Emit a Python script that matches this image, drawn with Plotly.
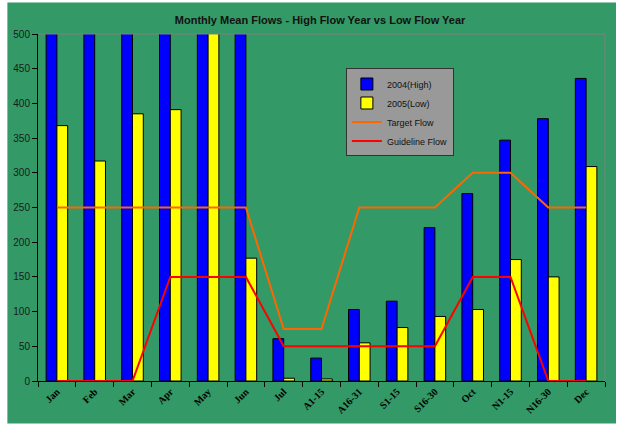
import plotly.graph_objects as go

# Flow periods (months, with Aug/Sep/Nov split into half-months)
periods = ["Jan", "Feb", "Mar", "Apr", "May", "Jun", "Jul", "A1-15", "A16-31",
           "S1-15", "S16-30", "Oct", "N1-15", "N16-30", "Dec"]

# Mean flows for the high flow year and the low flow year
flow_2004 = [642, 583, 712, 1065, 1386, 768, 61, 33, 103, 115, 221, 270, 347, 378, 436]
flow_2005 = [368, 317, 385, 391, 512, 177, 4, 3, 55, 77, 93, 103, 175, 150, 309]

# Reference flow levels
target_flow = [250, 250, 250, 250, 250, 250, 75, 75, 250, 250, 250, 300, 300, 250, 250]
guideline_flow = [0, 0, 0, 150, 150, 150, 50, 50, 50, 50, 50, 150, 150, 0, 0]

y_ticks = list(range(0, 501, 50))

fig = go.Figure()

fig.add_trace(go.Bar(
    x=periods, y=flow_2004, name="2004(High)",
    marker=dict(color="#0000FF", line=dict(color="#000000", width=1)),
))
fig.add_trace(go.Bar(
    x=periods, y=flow_2005, name="2005(Low)",
    marker=dict(color="#FFFF00", line=dict(color="#000000", width=1)),
))
fig.add_trace(go.Scatter(
    x=periods, y=target_flow, name="Target Flow", mode="lines",
    line=dict(color="#FF6600", width=2), cliponaxis=False,
))
fig.add_trace(go.Scatter(
    x=periods, y=guideline_flow, name="Guideline Flow", mode="lines",
    line=dict(color="#FF0000", width=2), cliponaxis=False,
))

# green chart area framed by a thin white border
fig.add_shape(type="rect", xref="paper", yref="paper",
              x0=-0.054, x1=1.0194, y0=-0.1225, y1=1.0908,
              fillcolor="#339966", line=dict(width=0), layer="below")
# grey frame on the top and right edges of the plot area
fig.add_shape(type="line", xref="paper", yref="paper",
              x0=0, x1=1, y0=1, y1=1,
              line=dict(color="#808080", width=1), layer="above")
fig.add_shape(type="line", xref="paper", yref="paper",
              x0=1, x1=1, y0=0, y1=1,
              line=dict(color="#808080", width=1), layer="above")

fig.update_layout(
    width=624, height=425,
    margin=dict(l=38, r=19, t=34, b=44, autoexpand=False),
    paper_bgcolor="#FFFFFF",
    plot_bgcolor="#C0C0C0",
    barmode="group", bargap=0.43, bargroupgap=0,
    title=dict(
        text="<b>Monthly Mean Flows - High Flow Year vs Low Flow Year</b>",
        x=0.513, xanchor="center", y=0.953, yanchor="middle",
        font=dict(family="Liberation Sans, Arial", size=11, color="#111111"),
    ),
    showlegend=True,
    legend=dict(
        x=0.543, y=0.9006, xanchor="left", yanchor="top",
        bgcolor="#999999", bordercolor="#333333", borderwidth=1,
        font=dict(family="Liberation Sans, Arial", size=9, color="#111111"),
        itemwidth=30, tracegroupgap=0,
    ),
    xaxis=dict(
        type="category", tickangle=-45, tickson="boundaries",
        ticks="outside", ticklen=5, tickcolor="#000000", tickwidth=1,
        showline=True, linecolor="#000000", linewidth=1,
        showgrid=False, zeroline=False, layer="below traces", automargin=False,
        tickfont=dict(family="Liberation Serif, Times New Roman", size=10,
                      color="#000000", weight="bold"),
    ),
    yaxis=dict(
        range=[0, 500], tickvals=y_ticks, ticks="outside", ticklen=5,
        tickcolor="#000000", showline=True, linecolor="#000000", linewidth=1,
        showgrid=False, zeroline=False, automargin=False,
        tickfont=dict(family="Liberation Sans, Arial", size=10, color="#1a1a1a"),
    ),
)

fig.write_html("out.html")
